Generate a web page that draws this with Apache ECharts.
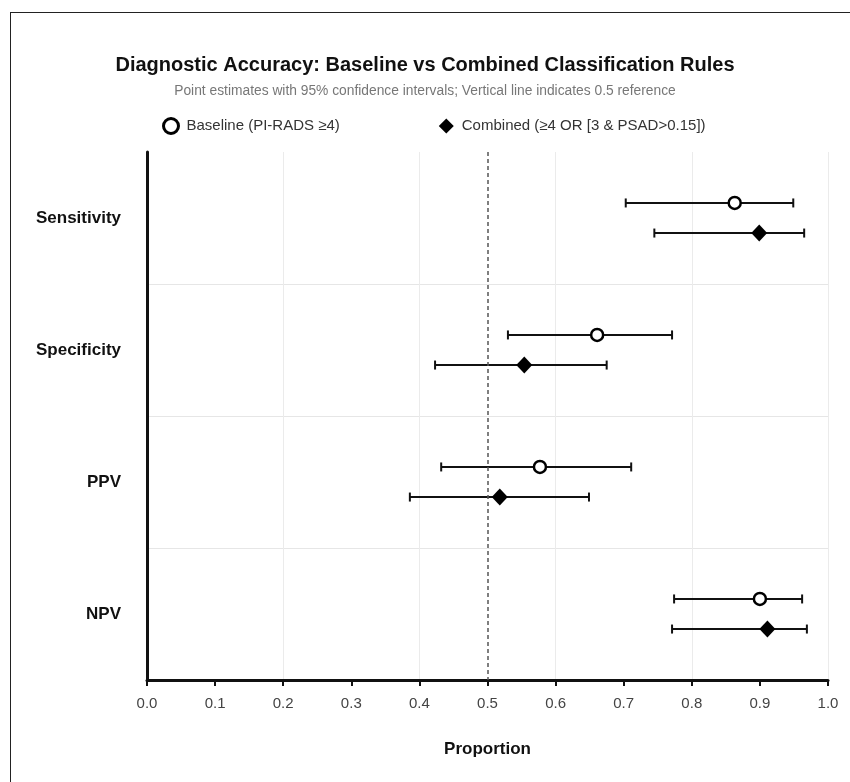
<!DOCTYPE html>
<html>
<head>
<meta charset="utf-8">
<script src="https://cdn.jsdelivr.net/npm/echarts@6/dist/echarts.min.js"></script>
<style>
html,body{margin:0;padding:0;background:#fff;overflow:hidden;}
#chart{position:absolute;left:0;top:0;width:850px;height:782px;}
#frame{position:absolute;left:10px;top:12px;width:860px;height:800px;border-left:1.5px solid #222;border-top:1.5px solid #222;pointer-events:none;}
</style>
</head>
<body>
<div id="chart"></div>
<div id="frame"></div>
<script>
const metrics = ['Sensitivity', 'Specificity', 'PPV', 'NPV'];
const baseEst = [0.863, 0.661, 0.577, 0.900];
const baseLo  = [0.703, 0.530, 0.432, 0.774];
const baseHi  = [0.949, 0.771, 0.711, 0.962];
const combEst = [0.899, 0.554, 0.518, 0.911];
const combLo  = [0.745, 0.423, 0.386, 0.771];
const combHi  = [0.965, 0.675, 0.649, 0.969];
const refLine = 0.5;
const seriesNames = ['Baseline (PI-RADS \u22654)', 'Combined (\u22654 OR [3 & PSAD>0.15])'];

const FONT = '"Liberation Sans", Arial, Helvetica, sans-serif';

function rows(lo, est, hi) {
  return metrics.map((m, i) => [i, lo[i], est[i], hi[i]]);
}

function makeRender(offFrac, kind) {
  return function (params, api) {
    const cat = api.value(0);
    const lo = api.value(1), est = api.value(2), hi = api.value(3);
    const band = api.size([0, 1])[1];
    const pc = api.coord([est, cat]);
    const y = pc[1] + offFrac * band;
    const xl = api.coord([lo, cat])[0];
    const xh = api.coord([hi, cat])[0];
    const cap = 4.5;
    const ls = { stroke: '#111', lineWidth: 2 };
    const children = [
      { type: 'line', shape: { x1: xl, y1: y, x2: xh, y2: y }, style: ls },
      { type: 'line', shape: { x1: xl, y1: y - cap, x2: xl, y2: y + cap }, style: ls },
      { type: 'line', shape: { x1: xh, y1: y - cap, x2: xh, y2: y + cap }, style: ls }
    ];
    if (kind === 'circle') {
      children.push({ type: 'circle', shape: { cx: pc[0], cy: y, r: 6 }, style: { fill: '#fff', stroke: '#000', lineWidth: 2.5 } });
    } else {
      const w = 8, h = 8.5;
      children.push({ type: 'polygon', shape: { points: [[pc[0], y - h], [pc[0] + w, y], [pc[0], y + h], [pc[0] - w, y]] }, style: { fill: '#000' } });
    }
    return { type: 'group', children: children };
  };
}

const chart = echarts.init(document.getElementById('chart'), null, { renderer: 'canvas' });
chart.setOption({
  animation: false,
  backgroundColor: '#fff',
  textStyle: { fontFamily: FONT },
  title: {
    text: 'Diagnostic Accuracy: Baseline vs Combined Classification Rules',
    subtext: 'Point estimates with 95% confidence intervals; Vertical line indicates 0.5 reference',
    left: 'center',
    top: 50,
    itemGap: 9,
    textStyle: { fontFamily: FONT, fontSize: 20, fontWeight: 'bold', color: '#111' },
    subtextStyle: { fontFamily: FONT, fontSize: 13.8, color: '#777' }
  },
  legend: {
    top: 112,
    left: 157,
    itemGap: 99,
    itemWidth: 15,
    itemHeight: 15,
    textStyle: { fontFamily: FONT, fontSize: 15, color: '#333', padding: [0, 0, 0, 3] },
    data: [
      { name: seriesNames[0], icon: 'circle', itemStyle: { color: '#fff', borderColor: '#000', borderWidth: 3 } },
      { name: seriesNames[1], icon: 'diamond', itemStyle: { color: '#000', borderWidth: 0 } }
    ]
  },
  grid: { left: 147, right: 22, top: 152, bottom: 102, containLabel: false },
  xAxis: [
    {
      type: 'value', min: 0, max: 1, interval: 0.1,
      name: 'Proportion', nameLocation: 'middle', nameGap: 61,
      nameTextStyle: { fontFamily: FONT, fontSize: 17, fontWeight: 'bold', color: '#111' },
      axisLine: { show: true, onZero: false, lineStyle: { color: '#111', width: 3 } },
      axisTick: { show: true, length: 6, lineStyle: { color: '#111', width: 2 } },
      axisLabel: { fontSize: 15, color: '#444', margin: 16, formatter: v => v.toFixed(1) },
      splitLine: { show: false }
    },
    {
      type: 'value', min: 0, max: 1, interval: 0.2, position: 'bottom',
      axisLine: { show: false }, axisTick: { show: false }, axisLabel: { show: false },
      splitLine: { show: true, showMinLine: false, lineStyle: { color: '#ebebeb', width: 1 } }
    }
  ],
  yAxis: {
    type: 'category', data: metrics, inverse: true,
    axisLine: { show: true, lineStyle: { color: '#111', width: 3 } },
    axisTick: { show: false },
    axisLabel: { fontSize: 17, fontWeight: 'bold', color: '#111', margin: 26 },
    splitLine: { show: true, showMinLine: false, showMaxLine: false, lineStyle: { color: '#e6e6e6', width: 1 } }
  },
  series: [
    {
      name: seriesNames[0], type: 'custom', xAxisIndex: 0,
      itemStyle: { color: '#fff', borderColor: '#000', borderWidth: 2.5 },
      renderItem: makeRender(-0.114, 'circle'),
      encode: { x: [1, 2, 3], y: 0 },
      data: rows(baseLo, baseEst, baseHi),
      markLine: {
        silent: true, symbol: 'none', label: { show: false },
        lineStyle: { color: '#555', type: [4, 3], width: 1.5 },
        data: [{ xAxis: refLine }]
      },
      z: 3
    },
    {
      name: seriesNames[1], type: 'custom', xAxisIndex: 0,
      itemStyle: { color: '#000' },
      renderItem: makeRender(0.114, 'diamond'),
      encode: { x: [1, 2, 3], y: 0 },
      data: rows(combLo, combEst, combHi),
      z: 3
    }
  ]
});
</script>
</body>
</html>
